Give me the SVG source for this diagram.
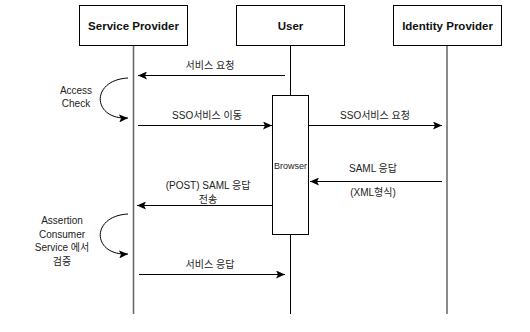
<svg xmlns="http://www.w3.org/2000/svg" width="530" height="332" viewBox="0 0 530 332">
<style>
.box{fill:#fff;stroke:#000;stroke-width:1}
.life{stroke:#666;stroke-width:1.5;fill:none}
.ulife{stroke:#000;stroke-width:1;fill:none}
.msg{stroke:#000;stroke-width:1;fill:none;marker-end:url(#ah)}
.t{font-family:"Liberation Sans",Arial,sans-serif;font-size:10px;fill:#222;text-anchor:middle}
.h{font-family:"Liberation Sans",Arial,sans-serif;font-size:11.5px;font-weight:bold;fill:#111;text-anchor:middle}
.k{font-family:"Liberation Sans","Noto Sans CJK KR",sans-serif;font-size:10px;fill:#222;text-anchor:middle}
</style>
<defs>
<marker id="ah" markerWidth="10" markerHeight="8" refX="9" refY="4" orient="auto" markerUnits="userSpaceOnUse">
<path d="M0,0 L9,4 L0,8 L2,4 Z" fill="#000"/>
</marker>
</defs>
<rect width="530" height="332" fill="#fff"/>
<g id="lifelines">
<line class="life" x1="133.5" y1="45" x2="133.5" y2="314"/>
<line class="ulife" x1="290.5" y1="45" x2="290.5" y2="314"/>
<line class="life" x1="447" y1="45" x2="447" y2="314"/>
</g>
<g id="node-sp"><rect class="box" x="79.5" y="5.5" width="108" height="40"/><text class="h" x="133.5" y="30">Service Provider</text></g>
<g id="node-user"><rect class="box" x="236.5" y="5.5" width="108" height="40"/><text class="h" x="290.5" y="30">User</text></g>
<g id="node-idp"><rect class="box" x="393.5" y="5.5" width="108" height="40"/><text class="h" x="447.5" y="30">Identity Provider</text></g>
<g id="node-browser"><rect class="box" x="272.5" y="95.5" width="36" height="139"/><text class="t" style="font-size:9px" x="290.5" y="169">Browser</text></g>
<g id="connectors">
<path class="msg" d="M285,75.5 L138,75.5"/>
<path class="msg" d="M138,125.5 L272,125.5"/>
<path class="msg" d="M309,125.5 L442,125.5"/>
<path class="msg" d="M442,181.5 L310,181.5"/>
<path class="msg" d="M272,205.5 L137,205.5"/>
<path class="msg" d="M139,274.5 L285,274.5"/>
<path class="msg" d="M128,78 C90,80 92,120 128,118"/>
<path class="msg" d="M128,214 C90,216 92,256 128,254"/>
</g>
<g id="labels">
<text class="k" x="210" y="69">서비스 요청</text>
<text class="k" x="207" y="119">SSO서비스 이동</text>
<text class="k" x="375" y="119">SSO서비스 요청</text>
<text class="k" x="373" y="172">SAML 응답</text>
<text class="k" x="373" y="196">(XML형식)</text>
<text class="k" x="208" y="189">(POST) SAML 응답</text>
<text class="k" x="208" y="203">전송</text>
<text class="k" x="210" y="268">서비스 응답</text>
<text class="t" x="76" y="94">Access</text>
<text class="t" x="76" y="107">Check</text>
<text class="k" x="62" y="224">Assertion</text>
<text class="k" x="62" y="238">Consumer</text>
<text class="k" x="62" y="251">Service 에서</text>
<text class="k" x="62" y="265">검증</text>
</g>
</svg>
